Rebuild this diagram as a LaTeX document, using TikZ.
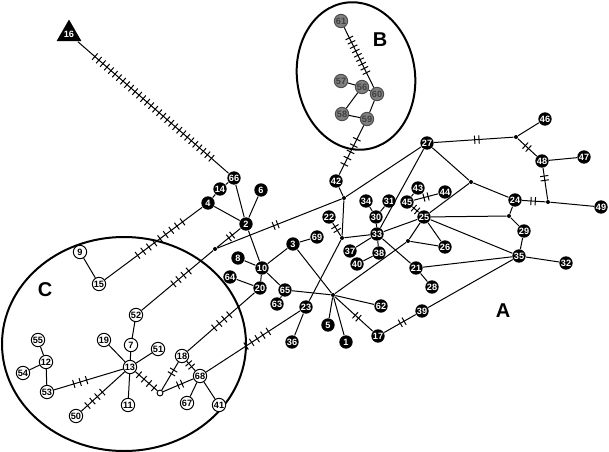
\documentclass[tikz,border=0pt]{standalone}
\usepackage{fontspec}
\setmainfont{Liberation Sans}
\usetikzlibrary{calc, shapes.geometric}

\newcommand{\mut}[5][4pt]{%
  \foreach \k in {1,...,#4}{%
    \pgfmathsetmacro{\off}{(\k-(#4+1)/2)*#1}%
    \coordinate (tkc) at ($(#2)!#5!(#3)$);%
    \coordinate (tkp) at ($(tkc)!\off pt!(#3)$);%
    \draw ($(tkp)!2.5pt!90:(#3)$) -- ($(tkp)!2.5pt!-90:(#3)$);%
  }}

\begin{document}
\begin{tikzpicture}[x=0.6pt, y=-0.6pt,
  every path/.style={line width=0.6pt},
  hapA/.style={circle, fill=black, text=white, inner sep=0pt, minimum size=8pt, font=\fontsize{5.5}{6}\selectfont\bfseries},
  hapB/.style={hapA, fill=gray, draw=black!70, text=black!75},
  hapC/.style={hapA, fill=white, draw=black, text=black},
  mv/.style={circle, fill=black, inner sep=0pt, minimum size=2.4pt},
  mvo/.style={circle, draw=black, fill=white, inner sep=0pt, minimum size=3.5pt},
  grp/.style={line width=1.2pt},
  lbl/.style={font=\fontsize{12}{14}\selectfont\bfseries}]
\useasboundingbox (0,0) rectangle (609,452);

\draw[grp, rotate around={8:(356,76)}] (356,76) ellipse [x radius=35.4pt, y radius=44.4pt];
\draw[grp] (124,344) ellipse [x radius=73.2pt, y radius=64.2pt];
\node[lbl] (labA) at (503,311) {A};
\node[lbl] (labB) at (380,40) {B};
\node[lbl] (labC) at (45,290) {C};

\node[hapA, regular polygon, regular polygon sides=3, minimum size=13pt] (h16) at (69,34) {16};
\node[hapA] (h1) at (346,342) {1};
\node[hapA] (h2) at (246,224) {2};
\node[hapA] (h3) at (293,244) {3};
\node[hapA] (h4) at (208,203) {4};
\node[hapA] (h5) at (328,325) {5};
\node[hapA] (h6) at (261,190) {6};
\node[hapA] (h8) at (238,258) {8};
\node[hapA] (h10) at (262,268) {10};
\node[hapA] (h14) at (220,189) {14};
\node[hapA] (h17) at (378,336) {17};
\node[hapA] (h20) at (260,288) {20};
\node[hapA] (h21) at (416,268) {21};
\node[hapA] (h22) at (329,217) {22};
\node[hapA] (h23) at (306,307) {23};
\node[hapA] (h24) at (515,200) {24};
\node[hapA] (h25) at (424,217) {25};
\node[hapA] (h26) at (445,247) {26};
\node[hapA] (h27) at (427,143) {27};
\node[hapA] (h28) at (432,287) {28};
\node[hapA] (h29) at (524,231) {29};
\node[hapA] (h30) at (376,217) {30};
\node[hapA] (h31) at (389,201) {31};
\node[hapA] (h32) at (566,263) {32};
\node[hapA] (h33) at (377,234) {33};
\node[hapA] (h34) at (366,201) {34};
\node[hapA] (h35) at (519,256) {35};
\node[hapA] (h36) at (292,342) {36};
\node[hapA] (h37) at (350,251) {37};
\node[hapA] (h38) at (379,253) {38};
\node[hapA] (h39) at (422,311) {39};
\node[hapA] (h40) at (357,264) {40};
\node[hapA] (h42) at (336,181) {42};
\node[hapA] (h43) at (418,188) {43};
\node[hapA] (h44) at (445,192) {44};
\node[hapA] (h45) at (407,202) {45};
\node[hapA] (h46) at (545,119) {46};
\node[hapA] (h47) at (584,157) {47};
\node[hapA] (h48) at (542,161) {48};
\node[hapA] (h49) at (601,207) {49};
\node[hapA] (h62) at (381,306) {62};
\node[hapA] (h63) at (277,304) {63};
\node[hapA] (h64) at (230,277) {64};
\node[hapA] (h65) at (285,290) {65};
\node[hapA] (h66) at (234,178) {66};
\node[hapA] (h69) at (317,237) {69};

\node[hapB] (h56) at (362,87) {56};
\node[hapB] (h57) at (341,81) {57};
\node[hapB] (h58) at (342,114) {58};
\node[hapB] (h59) at (367,119) {59};
\node[hapB] (h60) at (377,94) {60};
\node[hapB] (h61) at (341,21) {61};

\node[hapC] (h7) at (131,345) {7};
\node[hapC] (h9) at (80,252) {9};
\node[hapC] (h11) at (128,405) {11};
\node[hapC] (h12) at (46,362) {12};
\node[hapC] (h13) at (130,367) {13};
\node[hapC] (h15) at (99,284) {15};
\node[hapC] (h18) at (182,356) {18};
\node[hapC] (h19) at (104,340) {19};
\node[hapC] (h41) at (219,405) {41};
\node[hapC] (h50) at (76,416) {50};
\node[hapC] (h51) at (158,349) {51};
\node[hapC] (h52) at (136,315) {52};
\node[hapC] (h53) at (47,392) {53};
\node[hapC] (h54) at (23,373) {54};
\node[hapC] (h55) at (38,340) {55};
\node[hapC] (h67) at (187,403) {67};
\node[hapC] (h68) at (200,376) {68};

\node[mv] (m0) at (333,295) {};
\node[mv] (m2) at (215,249) {};
\node[mv] (m22) at (342,238) {};
\node[mv] (m26) at (408,241) {};
\node[mv] (m27) at (471,182) {};
\node[mv] (m29) at (509,216) {};
\node[mv] (m42) at (344,198) {};
\node[mv] (m46) at (516,137) {};
\node[mv] (m49) at (548,202) {};
\node[mvo] (m13) at (160,393) {};

\draw(h66)to(h2);
\draw(h4)to(h14);
\draw(h14)to(h66);
\draw(h4)to(h2);
\draw(h6)to(h2);
\draw(h2)to(h10);
\draw(h15)to(h9);
\draw(h10)to(h8);
\draw(h10)to(h3);
\draw(h10)to(h20);
\draw(h10)to(h65);
\draw(h3)to(h69);
\draw(h3)to(m0);
\draw(h20)to(h64);
\draw(h65)to(h63);
\draw(h65)to(m0);
\draw(h23)to(h36);
\draw(m22)to(h23);
\draw(m0)to(h5);
\draw(m0)to(h1);
\draw(m0)to(h62);
\draw(m0)to(m26);
\draw(m26)to(h25);
\draw(m26)to(h26);
\draw(h39)to(h35);
\draw(h33)to(h30);
\draw(h30)to(h34);
\draw(h30)to(h31);
\draw(h33)to(h37);
\draw(h33)to(h38);
\draw(h38)to(h40);
\draw(h33)to(h21);
\draw(h33)to(h25);
\draw(h33)to(h27);
\draw(h21)to(h28);
\draw(h21)to(h35);
\draw(h25)to(h26);
\draw(h25)to(m29);
\draw(h25)to(h35);
\draw(h25)to(m27);
\draw(h27)to(m27);
\draw(m27)to(h24);
\draw(h24)to(m29);
\draw(m29)to(h29);
\draw(h29)to(h35);
\draw(h35)to(h32);
\draw(m46)to(h46);
\draw(h48)to(h47);
\draw(m49)to(h49);
\draw(h42)to(m42);
\draw(m42)to(m22);
\draw(m42)to(h27);
\draw(m22)to(h33);
\draw(h43)to(h45);
\draw(h59)to(h58);
\draw(h59)to(h60);
\draw(h58)to(h56);
\draw(h56)to(h57);
\draw(h56)to(h60);
\draw(h13)to(h7);
\draw(h7)to(h52);
\draw(h13)to(h19);
\draw(h13)to(h51);
\draw(h13)to(h11);
\draw(h53)to(h12);
\draw(h12)to(h55);
\draw(h12)to(h54);
\draw(h68)to(h67);
\draw(h68)to(h41);

\draw(h16)to(h66); \mut[3.2pt]{h16}{h66}{30}{0.51}
\draw(h61)to(h60); \mut[2.9pt]{h61}{h60}{9}{0.47}
\draw(h59)to(h42); \mut[4.2pt]{h59}{h42}{5}{0.53}
\draw(h4)to(h15); \mut[4.2pt]{h4}{h15}{9}{0.44}
\draw(m2)to(h52); \mut{m2}{h52}{4}{0.43}
\draw(h2)to(m2); \mut[2.6pt]{h2}{m2}{2}{0.5}
\draw(m2)to(m42); \mut[2.6pt]{m2}{m42}{2}{0.47}
\draw(h22)to(m22); \mut[2.6pt]{h22}{m22}{2}{0.55}
\draw(h27)to(m46); \mut[2.6pt]{h27}{m46}{2}{0.56}
\draw(m46)to(h48); \mut[2.6pt]{m46}{h48}{2}{0.42}
\draw(h48)to(m49); \mut[2.6pt]{h48}{m49}{2}{0.42}
\draw(h24)to(m49); \mut[2.6pt]{h24}{m49}{2}{0.55}
\draw(h45)to(h44); \mut[2.6pt]{h45}{h44}{2}{0.5}
\draw(h45)to(h25); \mut[2.6pt]{h45}{h25}{2}{0.5}
\draw(m0)to(h17); \mut[2.6pt]{m0}{h17}{2}{0.53}
\draw(h17)to(h39); \mut[2.6pt]{h17}{h39}{2}{0.55}
\draw(h20)to(h18); \mut{h20}{h18}{4}{0.49}
\draw(h23)to(h68); \mut{h23}{h68}{5}{0.46}
\draw(h13)to(m13); \mut{h13}{m13}{4}{0.55}
\draw(m13)to(h18); \mut[2.6pt]{m13}{h18}{2}{0.57}
\draw(m13)to(h68); \mut[2.6pt]{m13}{h68}{2}{0.5}
\draw(h18)to(h68); \mut[2.6pt]{h18}{h68}{2}{0.45}
\draw(h13)to(h53); \mut{h13}{h53}{3}{0.6}
\draw(h13)to(h50); \mut{h13}{h50}{4}{0.65}
\end{tikzpicture}
\end{document}
